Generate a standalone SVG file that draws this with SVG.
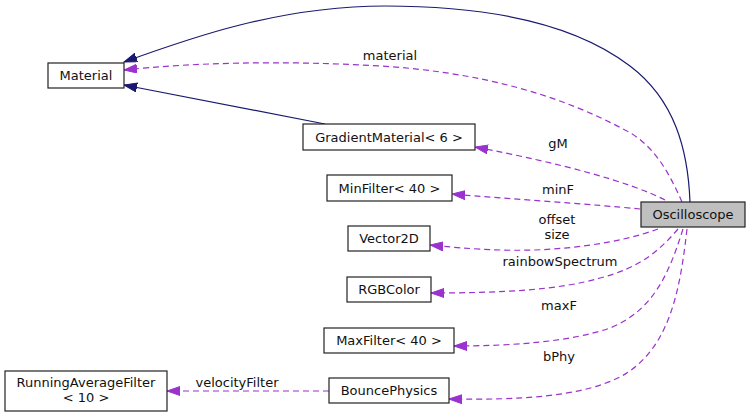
<svg xmlns="http://www.w3.org/2000/svg" width="751" height="417" viewBox="0 0 751 417">
<style>
text{font-family:"DejaVu Sans","Liberation Sans",sans-serif;font-size:13px;fill:#111;text-anchor:middle}
.box{fill:#fff;stroke:#222;stroke-width:1.2}
.cur{fill:#bfbfbf;stroke:#222;stroke-width:1.2}
.inh{fill:none;stroke:#191970;stroke-width:1.2;marker-end:url(#an)}
.use{fill:none;stroke:#9a32cd;stroke-width:1.2;stroke-dasharray:6,4;marker-end:url(#ap)}
</style>
<defs>
<marker id="an" markerUnits="userSpaceOnUse" markerWidth="14" markerHeight="10" refX="13" refY="4.5" orient="auto" viewBox="0 0 14 10">
<polygon points="0,0 13,4.5 0,9" fill="#191970" stroke="#191970"/>
</marker>
<marker id="ap" markerUnits="userSpaceOnUse" markerWidth="14" markerHeight="10" refX="13" refY="4.5" orient="auto" viewBox="0 0 14 10">
<polygon points="0,0 13,4.5 0,9" fill="#9a32cd" stroke="#9a32cd"/>
</marker>
</defs>
<g id="edges">
<path class="inh" d="M 690,202 C 688,150 675,100 630,66 C 570,20 480,6 385,6 C 280,6 190,38 124,62"/>
<path class="inh" d="M 325,124 L 124,85"/>
<path class="use" d="M 682,202 C 670,175 655,145 625,130 C 560,95 480,72 380,66 C 280,60 190,63 124,70"/>
<text x="390" y="60">material</text>
<path class="use" d="M 665,200 C 630,182 560,163 475,147"/>
<text x="558" y="148">gM</text>
<path class="use" d="M 640,209 C 590,204 510,199 452,194"/>
<text x="558" y="194">minF</text>
<path class="use" d="M 658,229 C 620,243 560,252 500,250 C 470,249 450,247 430,245"/>
<text x="557" y="224">offset</text>
<text x="557" y="239">size</text>
<path class="use" d="M 678,229 C 660,250 640,268 600,278 C 560,290 500,293 431,293"/>
<text x="560" y="266">rainbowSpectrum</text>
<path class="use" d="M 683,229 C 670,270 655,310 610,328 C 570,342 510,346 454,346"/>
<text x="559" y="310">maxF</text>
<path class="use" d="M 687,229 C 680,290 670,350 620,377 C 580,397 520,400 449,399"/>
<text x="559" y="361">bPhy</text>
<path class="use" d="M 329,391 L 167,391"/>
<text x="237" y="387">velocityFilter</text>
</g>
<g id="Material"><rect class="box" x="48" y="63" width="76" height="25"/><text x="86" y="80">Material</text></g>
<g id="GradientMaterial"><rect class="box" x="303" y="124" width="172" height="26"/><text x="389" y="141.5">GradientMaterial&lt; 6 &gt;</text></g>
<g id="MinFilter"><rect class="box" x="327" y="175" width="125" height="26"/><text x="389.5" y="192.5">MinFilter&lt; 40 &gt;</text></g>
<g id="Vector2D"><rect class="box" x="348" y="226" width="82" height="25"/><text x="389" y="243">Vector2D</text></g>
<g id="RGBColor"><rect class="box" x="347" y="277" width="84" height="25"/><text x="389" y="294">RGBColor</text></g>
<g id="MaxFilter"><rect class="box" x="324" y="328" width="130" height="25"/><text x="389" y="345">MaxFilter&lt; 40 &gt;</text></g>
<g id="BouncePhysics"><rect class="box" x="329" y="378" width="120" height="25"/><text x="389" y="395">BouncePhysics</text></g>
<g id="Oscilloscope"><rect class="cur" x="641" y="202" width="104" height="25"/><text x="693" y="219">Oscilloscope</text></g>
<g id="RunningAverageFilter"><rect class="box" x="5" y="371" width="162" height="40"/><text x="86" y="387">RunningAverageFilter</text><text x="86" y="402">&lt; 10 &gt;</text></g>
</svg>
